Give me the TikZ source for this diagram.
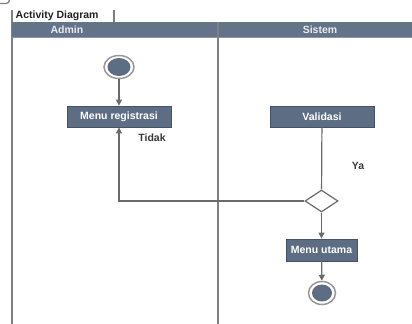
\documentclass[tikz,border=0pt]{standalone}
\usepackage{fontspec}
\setmainfont{Liberation Sans}
\usetikzlibrary{shapes.geometric,arrows.meta}
\definecolor{actfill}{HTML}{5D6D83}
\definecolor{actdraw}{HTML}{45536A}
\definecolor{hdrfill}{HTML}{62738A}
\definecolor{linec}{HTML}{6A6A6A}
\definecolor{txt}{HTML}{222222}
\tikzset{
  lbl/.style={font=\fontsize{10.5bp}{12bp}\selectfont\bfseries, text=txt, inner sep=0pt},
  hdr/.style={font=\fontsize{10.5bp}{12bp}\selectfont\bfseries, text=white!92!black, inner sep=0pt},
  actbox/.style={rectangle, fill=actfill, draw=actdraw, line width=0.8bp, text=white,
    font=\fontsize{10.5bp}{12bp}\selectfont\bfseries, inner sep=0pt},
  ring/.style={ellipse, draw=linec!70, line width=1.5bp, fill=white, inner sep=0pt},
  conn/.style={draw=linec, line width=1.2bp},
  arr/.style={conn, -{Triangle[length=6bp,width=6bp]}, shorten >=0pt},
  frame/.style={draw=linec!85, line width=1.3bp},
  decision/.style={diamond, draw=linec, line width=1.2bp, fill=white, inner sep=0pt, aspect=1.5}
}
\begin{document}
\begin{tikzpicture}[x=1bp,y=-1bp]
\useasboundingbox (0,0) rectangle (412,324);
\fill[white] (0,0) rectangle (412,324);
% corner artifact
\draw[frame] (0,3.5) -- (6,3.5) arc[start angle=90,end angle=0,radius=3.5] -- (9.5,0);
% frame
\draw[frame] (12,10) -- (12,324);
\draw[frame] (114,10) -- (114,22);
\node[lbl, anchor=west] (title) at (15.5,15.5) {Activity Diagram};
% header
\fill[hdrfill] (12,22) rectangle (412,37);
\draw[draw=actdraw!80, line width=0.8bp] (12,22) -- (412,22);
\draw[draw=actdraw!60, line width=0.6bp] (12,37) -- (412,37);
\node[hdr] (admin) at (67,30) {Admin};
\node[hdr] (sistem) at (320,30) {Sistem};
\draw[frame] (218,22) -- (218,324);
% nodes
\node[ring, minimum width=30bp, minimum height=23bp] (start) at (119,67) {};
\fill[actfill] (start.center) ellipse [x radius=11.5, y radius=9];
\node[actbox, minimum width=104bp, minimum height=21bp] (reg) at (119,116.5) {Menu registrasi};
\node[actbox, minimum width=104bp, minimum height=21bp] (val) at (322,116.5) {Validasi};
\node[decision, minimum width=33bp, minimum height=22bp] (dec) at (321.5,201) {};
\node[actbox, minimum width=71bp, minimum height=22bp] (menu) at (321.5,250) {Menu utama};
\node[ring, minimum width=27bp, minimum height=23bp] (end) at (322,293) {};
\fill[actfill] (end.center) ellipse [x radius=10, y radius=8.5];
\node[lbl, text=txt!90] (tidak) at (152,138) {Tidak};
\node[lbl, text=txt!90] (ya) at (358,166) {Ya};
% connectors
\draw[arr] (start) -- (reg);
\draw[conn] (val) -- (dec);
\draw[arr] (dec.west) -| (reg.south);
\draw[arr] (dec) -- (menu);
\draw[arr] (menu) -- (end);
\end{tikzpicture}
\end{document}
